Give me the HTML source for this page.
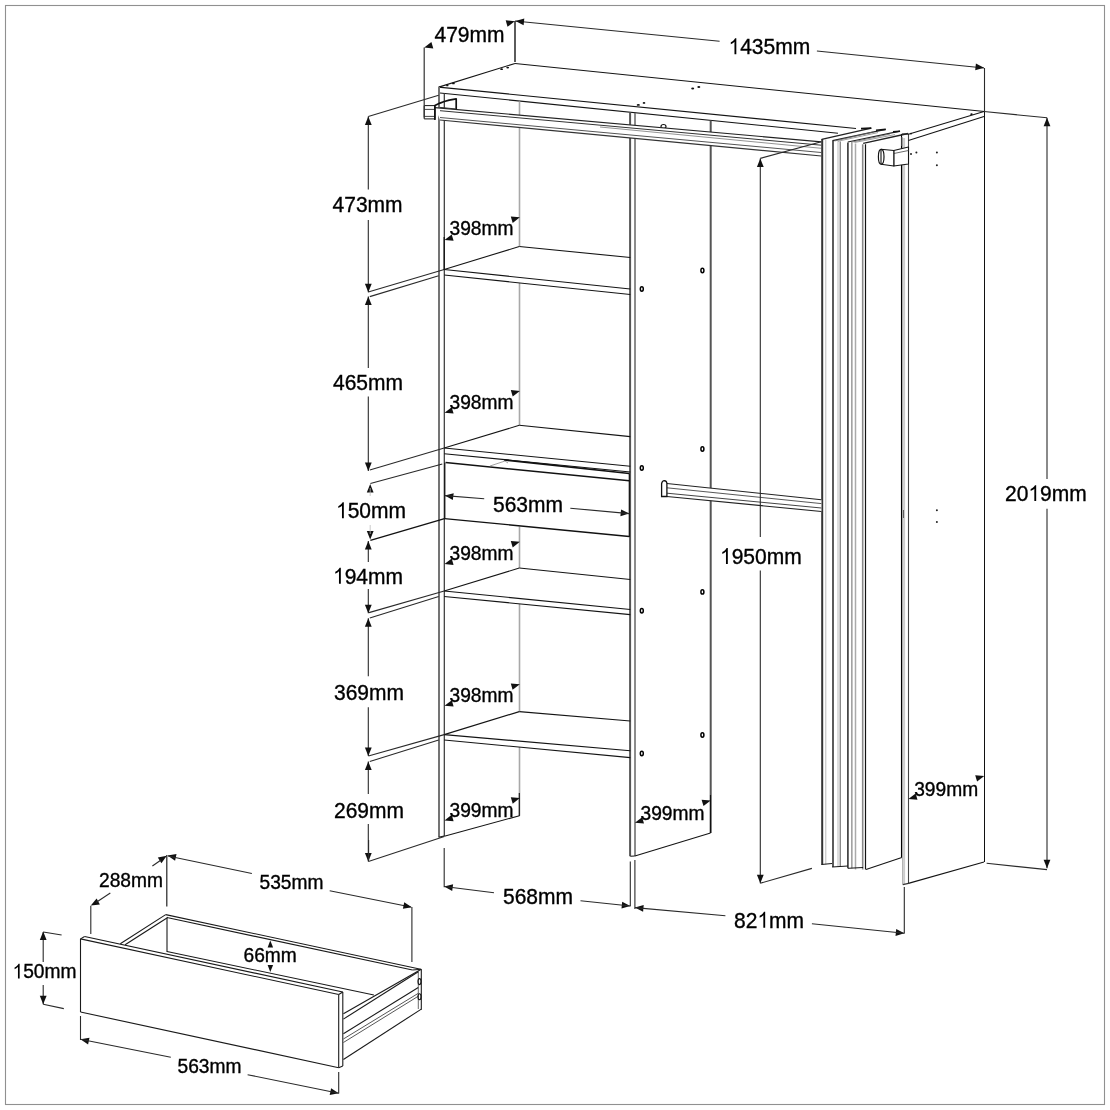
<!DOCTYPE html>
<html><head><meta charset="utf-8"><style>
html,body{margin:0;padding:0;background:#fff;width:1110px;height:1110px;overflow:hidden}
svg{display:block;will-change:transform}
text{font-family:"Liberation Sans",sans-serif;fill:#000}
.lbl text,.lbl path{fill:#000;stroke:#000;stroke-width:0.35px}
</style></head><body>
<svg width="1110" height="1110" viewBox="0 0 1110 1110">
<rect x="5.5" y="5.5" width="1099" height="1099" fill="none" stroke="#909090" stroke-width="1.1"/>
<line x1="515.0" y1="63.5" x2="984.5" y2="111.5" stroke="#141414" stroke-width="1.1"/>
<line x1="438.7" y1="87.1" x2="515.0" y2="63.5" stroke="#141414" stroke-width="1.1"/>
<line x1="438.7" y1="87.1" x2="856.0" y2="128.5" stroke="#141414" stroke-width="1.1"/>
<line x1="440.0" y1="93.0" x2="838.0" y2="133.2" stroke="#141414" stroke-width="1.1"/>
<ellipse cx="447.3" cy="85.4" rx="1.2" ry="0.9" fill="#111"/>
<ellipse cx="453.4" cy="83.4" rx="1.4" ry="0.9" fill="#111"/>
<ellipse cx="501.6" cy="69.2" rx="1.4" ry="0.9" fill="#111"/>
<ellipse cx="507.7" cy="67.6" rx="1.4" ry="0.9" fill="#111"/>
<ellipse cx="638.3" cy="104.9" rx="1.6" ry="0.9" fill="#111"/>
<ellipse cx="644" cy="102.9" rx="1.3" ry="0.9" fill="#111"/>
<ellipse cx="692.7" cy="88.5" rx="1.5" ry="0.9" fill="#111"/>
<ellipse cx="698.8" cy="87.0" rx="1.5" ry="0.9" fill="#111"/>
<ellipse cx="971.5" cy="114.2" rx="1.2" ry="0.9" fill="#111"/>
<ellipse cx="911" cy="133.6" rx="1.0" ry="0.9" fill="#111"/>
<line x1="439.0" y1="87.1" x2="439.0" y2="837.3" stroke="#747474" stroke-width="2.0"/>
<line x1="444.3" y1="93.0" x2="444.3" y2="836.0" stroke="#333" stroke-width="1.2"/>
<line x1="438.7" y1="837.3" x2="444.2" y2="836.0" stroke="#141414" stroke-width="1.1"/>
<line x1="519.5" y1="101.4" x2="519.5" y2="246.5" stroke="#a8a8a8" stroke-width="1.6"/>
<line x1="519.5" y1="283.0" x2="519.5" y2="425.4" stroke="#a8a8a8" stroke-width="1.6"/>
<line x1="519.5" y1="526.5" x2="519.5" y2="568.0" stroke="#a8a8a8" stroke-width="1.6"/>
<line x1="519.5" y1="604.0" x2="519.5" y2="711.6" stroke="#a8a8a8" stroke-width="1.6"/>
<line x1="519.5" y1="747.0" x2="519.5" y2="815.7" stroke="#a8a8a8" stroke-width="1.6"/>
<line x1="444.3" y1="836.3" x2="519.5" y2="815.7" stroke="#141414" stroke-width="1.1"/>
<line x1="630.1" y1="112.4" x2="630.1" y2="856.2" stroke="#555" stroke-width="2.0"/>
<line x1="635.0" y1="113.0" x2="635.0" y2="856.0" stroke="#666" stroke-width="1.5"/>
<line x1="630.3" y1="856.2" x2="634.9" y2="856.0" stroke="#141414" stroke-width="1.1"/>
<line x1="634.9" y1="856.0" x2="710.5" y2="833.0" stroke="#141414" stroke-width="1.1"/>
<line x1="710.7" y1="120.5" x2="710.7" y2="833.0" stroke="#555" stroke-width="2.0"/>
<ellipse cx="702.4" cy="270.5" rx="1.5" ry="2.2" fill="none" stroke="#000" stroke-width="1.5"/>
<ellipse cx="702.4" cy="449.0" rx="1.5" ry="2.2" fill="none" stroke="#000" stroke-width="1.5"/>
<ellipse cx="702.4" cy="591.9" rx="1.5" ry="2.2" fill="none" stroke="#000" stroke-width="1.5"/>
<ellipse cx="702.4" cy="735.0" rx="1.5" ry="2.2" fill="none" stroke="#000" stroke-width="1.5"/>
<ellipse cx="641.8" cy="289.0" rx="1.5" ry="2.2" fill="none" stroke="#000" stroke-width="1.5"/>
<ellipse cx="641.8" cy="468.0" rx="1.5" ry="2.2" fill="none" stroke="#000" stroke-width="1.5"/>
<ellipse cx="641.8" cy="610.8" rx="1.5" ry="2.2" fill="none" stroke="#000" stroke-width="1.5"/>
<ellipse cx="641.8" cy="753.5" rx="1.5" ry="2.2" fill="none" stroke="#000" stroke-width="1.5"/>
<ellipse cx="663.5" cy="126.5" rx="2.5" ry="2.0" fill="none" stroke="#141414" stroke-width="1.2"/>
<line x1="901.5" y1="134.0" x2="901.5" y2="857.5" stroke="#000" stroke-width="1.1"/>
<line x1="902.8" y1="138.0" x2="902.8" y2="884.6" stroke="#888" stroke-width="0.9"/>
<line x1="904.2" y1="138.0" x2="904.2" y2="884.0" stroke="#ccc" stroke-width="1.8"/>
<line x1="908.5" y1="134.0" x2="908.5" y2="883.4" stroke="#444" stroke-width="1.1"/>
<line x1="902.8" y1="884.6" x2="908.5" y2="883.4" stroke="#333" stroke-width="1.1"/>
<line x1="908.4" y1="883.4" x2="984.0" y2="862.0" stroke="#141414" stroke-width="1.1"/>
<line x1="984.5" y1="111.5" x2="984.5" y2="862.0" stroke="#111" stroke-width="1.0"/>
<line x1="984.0" y1="111.5" x2="908.4" y2="134.2" stroke="#141414" stroke-width="1.1"/>
<line x1="984.0" y1="116.6" x2="908.4" y2="140.5" stroke="#141414" stroke-width="1.1"/>
<line x1="901.8" y1="134.0" x2="908.4" y2="134.0" stroke="#141414" stroke-width="1.1"/>
<circle cx="911.0" cy="154.0" r="1.0" fill="#222"/>
<circle cx="916.4" cy="152.6" r="1.0" fill="#222"/>
<circle cx="936.9" cy="152.6" r="1.0" fill="#222"/>
<circle cx="936.9" cy="165.2" r="1.0" fill="#222"/>
<circle cx="936.9" cy="510.2" r="1.0" fill="#222"/>
<circle cx="936.9" cy="522.1" r="1.0" fill="#222"/>
<line x1="903.5" y1="510.0" x2="903.5" y2="518.0" stroke="#444" stroke-width="0.8"/>
<polygon points="434.9,107.6 821.3,141.9 821.3,156.0 440.0,120.0" fill="#fff" stroke="none" stroke-width="0" stroke-linejoin="round"/>
<line x1="434.9" y1="107.6" x2="821.3" y2="141.9" stroke="#222" stroke-width="1.1"/>
<line x1="440.0" y1="110.7" x2="821.3" y2="145.2" stroke="#333" stroke-width="1.0"/>
<line x1="600.0" y1="127.0" x2="821.3" y2="148.3" stroke="#777" stroke-width="0.8"/>
<line x1="440.0" y1="117.5" x2="821.3" y2="152.5" stroke="#555" stroke-width="1.0"/>
<line x1="440.0" y1="120.0" x2="821.3" y2="156.0" stroke="#333" stroke-width="1.1"/>
<polygon points="424.2,105.6 434.9,105.6 434.9,118.9 424.2,118.9" fill="#fff" stroke="#141414" stroke-width="1.0" stroke-linejoin="round"/>
<line x1="424.2" y1="109.4" x2="434.9" y2="109.4" stroke="#141414" stroke-width="0.8"/>
<line x1="424.2" y1="116.4" x2="434.9" y2="116.4" stroke="#141414" stroke-width="0.8"/>
<polyline points="434.9,120.0 434.9,105.6 440.0,103.1 444.3,101.5 449.2,100.1 456.2,98.8 456.2,109.3" fill="none" stroke="#111" stroke-width="1.7" stroke-linejoin="round"/>
<line x1="440.0" y1="107.4" x2="456.2" y2="109.0" stroke="#333" stroke-width="1.0"/>
<polygon points="893.8,150.5 908.5,147.0 908.5,164.0 893.8,166.0" fill="#fff" stroke="#141414" stroke-width="1.1" stroke-linejoin="round"/>
<line x1="893.8" y1="153.5" x2="908.5" y2="150.5" stroke="#444" stroke-width="0.8"/>
<polygon points="881.0,149.3 893.8,150.5 893.8,166.0 881.0,164.2" fill="#fff" stroke="#141414" stroke-width="1.1" stroke-linejoin="round"/>
<ellipse cx="881.2" cy="156.7" rx="2.8" ry="7.4" fill="none" stroke="#141414" stroke-width="1.2"/>
<line x1="902.2" y1="137.0" x2="902.2" y2="146.0" stroke="#999" stroke-width="1.2"/>
<line x1="822.2" y1="138.9" x2="822.2" y2="864.5" stroke="#333" stroke-width="2.0"/>
<line x1="825.8" y1="139.5" x2="825.8" y2="864.5" stroke="#bbb" stroke-width="1.0"/>
<line x1="833.0" y1="140.6" x2="833.0" y2="867.0" stroke="#333" stroke-width="1.6"/>
<line x1="838.0" y1="141.0" x2="838.0" y2="867.0" stroke="#bbb" stroke-width="1.0"/>
<line x1="840.2" y1="141.5" x2="840.2" y2="867.0" stroke="#555" stroke-width="1.0"/>
<line x1="847.9" y1="142.5" x2="847.9" y2="868.3" stroke="#333" stroke-width="1.6"/>
<line x1="851.9" y1="142.8" x2="851.9" y2="868.3" stroke="#666" stroke-width="1.0"/>
<line x1="855.5" y1="143.5" x2="855.5" y2="869.6" stroke="#aaa" stroke-width="1.5"/>
<line x1="862.7" y1="144.2" x2="862.7" y2="869.6" stroke="#888" stroke-width="1.6"/>
<line x1="865.5" y1="144.2" x2="865.5" y2="869.6" stroke="#111" stroke-width="1.2"/>
<line x1="821.7" y1="139.3" x2="871.3" y2="128.1" stroke="#222" stroke-width="1.3"/>
<line x1="832.5" y1="140.7" x2="885.7" y2="129.4" stroke="#222" stroke-width="1.2"/>
<line x1="847.8" y1="142.0" x2="900.0" y2="131.2" stroke="#222" stroke-width="1.2"/>
<line x1="863.2" y1="143.4" x2="908.2" y2="133.5" stroke="#222" stroke-width="1.3"/>
<line x1="834.5" y1="141.0" x2="873.0" y2="132.0" stroke="#666" stroke-width="0.8"/>
<line x1="838.0" y1="141.2" x2="878.0" y2="132.6" stroke="#888" stroke-width="0.8"/>
<line x1="851.0" y1="142.3" x2="890.0" y2="134.0" stroke="#666" stroke-width="0.8"/>
<line x1="854.5" y1="142.5" x2="895.0" y2="134.6" stroke="#888" stroke-width="0.8"/>
<line x1="861.0" y1="128.6" x2="871.3" y2="128.1" stroke="#111" stroke-width="1.6"/>
<line x1="876.0" y1="130.2" x2="885.7" y2="129.4" stroke="#111" stroke-width="1.6"/>
<line x1="893.0" y1="131.9" x2="900.0" y2="131.2" stroke="#111" stroke-width="1.6"/>
<polyline points="821.3,864.5 832.1,863.5" fill="none" stroke="#141414" stroke-width="1.0" stroke-linejoin="round"/>
<polyline points="832.1,867.0 847.9,866.0" fill="none" stroke="#141414" stroke-width="1.0" stroke-linejoin="round"/>
<polyline points="847.9,868.3 863.1,867.5" fill="none" stroke="#141414" stroke-width="1.0" stroke-linejoin="round"/>
<line x1="866.0" y1="869.6" x2="901.8" y2="857.6" stroke="#141414" stroke-width="1.1"/>
<polygon points="666.9,483.5 821.4,499.8 821.4,511.5 666.9,496.5" fill="#fff" stroke="none" stroke-width="0" stroke-linejoin="round"/>
<line x1="666.9" y1="483.5" x2="821.4" y2="499.8" stroke="#222" stroke-width="1.1"/>
<line x1="666.9" y1="487.8" x2="821.4" y2="503.6" stroke="#444" stroke-width="0.9"/>
<line x1="666.9" y1="493.2" x2="821.4" y2="508.0" stroke="#444" stroke-width="1.0"/>
<line x1="666.9" y1="496.5" x2="821.4" y2="511.5" stroke="#222" stroke-width="1.1"/>
<path d="M661.6,496.5 V483.6 Q662.2,480.6 664.3,480.6 Q666.9,480.8 666.9,483.6 V496.5 Z" fill="#fff" stroke="#111" stroke-width="1.3"/>
<line x1="519.3" y1="246.5" x2="630.3" y2="257.5" stroke="#141414" stroke-width="1.1"/>
<line x1="444.2" y1="269.5" x2="519.3" y2="246.5" stroke="#141414" stroke-width="1.1"/>
<line x1="444.2" y1="269.5" x2="630.3" y2="289.0" stroke="#141414" stroke-width="1.1"/>
<line x1="444.2" y1="275.0" x2="630.3" y2="294.5" stroke="#141414" stroke-width="1.1"/>
<line x1="519.3" y1="425.3" x2="630.3" y2="436.6" stroke="#141414" stroke-width="1.1"/>
<line x1="444.2" y1="448.0" x2="519.3" y2="425.3" stroke="#141414" stroke-width="1.1"/>
<line x1="444.2" y1="448.0" x2="630.3" y2="466.3" stroke="#141414" stroke-width="1.1"/>
<line x1="444.2" y1="453.7" x2="630.3" y2="472.0" stroke="#141414" stroke-width="1.1"/>
<line x1="519.3" y1="568.0" x2="630.3" y2="579.5" stroke="#141414" stroke-width="1.1"/>
<line x1="444.2" y1="591.0" x2="519.3" y2="568.0" stroke="#141414" stroke-width="1.1"/>
<line x1="444.2" y1="591.0" x2="630.3" y2="609.5" stroke="#141414" stroke-width="1.1"/>
<line x1="444.2" y1="596.5" x2="630.3" y2="614.6" stroke="#141414" stroke-width="1.1"/>
<line x1="519.3" y1="711.6" x2="630.3" y2="721.0" stroke="#141414" stroke-width="1.1"/>
<line x1="444.2" y1="734.6" x2="519.3" y2="711.6" stroke="#141414" stroke-width="1.1"/>
<line x1="444.2" y1="734.6" x2="630.3" y2="750.8" stroke="#141414" stroke-width="1.1"/>
<line x1="444.2" y1="740.0" x2="630.3" y2="757.6" stroke="#141414" stroke-width="1.1"/>
<line x1="445.5" y1="462.6" x2="629.3" y2="480.7" stroke="#111" stroke-width="1.5"/>
<line x1="504.0" y1="459.9" x2="629.3" y2="473.5" stroke="#111" stroke-width="1.7"/>
<line x1="444.5" y1="518.6" x2="629.3" y2="536.5" stroke="#111" stroke-width="1.3"/>
<line x1="629.3" y1="473.5" x2="629.3" y2="537.0" stroke="#111" stroke-width="1.2"/>
<line x1="444.8" y1="462.7" x2="444.8" y2="518.8" stroke="#111" stroke-width="1.2"/>
<polyline points="490.0,466.0 505.0,461.0 508.0,463.0" fill="none" stroke="#888" stroke-width="0.8" stroke-linejoin="round"/>
<line x1="368.3" y1="116.5" x2="438.7" y2="95.2" stroke="#2a2a2a" stroke-width="1.1"/>
<line x1="368.3" y1="292.0" x2="444.2" y2="269.5" stroke="#2a2a2a" stroke-width="1.1"/>
<line x1="369.8" y1="296.6" x2="438.7" y2="275.8" stroke="#2a2a2a" stroke-width="1.1"/>
<line x1="369.8" y1="470.0" x2="444.2" y2="448.0" stroke="#2a2a2a" stroke-width="1.1"/>
<line x1="370.4" y1="483.5" x2="442.3" y2="464.0" stroke="#2a2a2a" stroke-width="1.1"/>
<line x1="370.4" y1="540.3" x2="444.5" y2="518.6" stroke="#111" stroke-width="1.4"/>
<line x1="369.0" y1="612.6" x2="444.2" y2="591.0" stroke="#2a2a2a" stroke-width="1.1"/>
<line x1="369.8" y1="618.0" x2="438.7" y2="596.5" stroke="#2a2a2a" stroke-width="1.1"/>
<line x1="368.4" y1="756.0" x2="444.2" y2="734.6" stroke="#2a2a2a" stroke-width="1.1"/>
<line x1="369.8" y1="761.6" x2="438.7" y2="740.0" stroke="#2a2a2a" stroke-width="1.1"/>
<line x1="368.4" y1="861.6" x2="444.3" y2="836.5" stroke="#2a2a2a" stroke-width="1.1"/>
<line x1="368.3" y1="116.5" x2="368.3" y2="189.5" stroke="#2a2a2a" stroke-width="1.1"/>
<line x1="368.3" y1="220.0" x2="368.3" y2="292.2" stroke="#2a2a2a" stroke-width="1.1"/>
<polygon points="368.3,116.5 371.7,125.0 364.9,125.0" fill="#111"/>
<polygon points="368.3,292.2 364.9,283.7 371.7,283.7" fill="#111"/>
<line x1="368.3" y1="296.6" x2="368.3" y2="368.0" stroke="#2a2a2a" stroke-width="1.1"/>
<line x1="368.3" y1="396.5" x2="368.3" y2="470.9" stroke="#2a2a2a" stroke-width="1.1"/>
<polygon points="368.3,296.6 371.7,305.1 364.9,305.1" fill="#111"/>
<polygon points="368.3,470.9 364.9,462.4 371.7,462.4" fill="#111"/>
<polygon points="370.2,484.1 373.6,492.6 366.8,492.6" fill="#111"/>
<polygon points="370.2,539.6 366.8,531.1 373.6,531.1" fill="#111"/>
<line x1="370.2" y1="488.0" x2="370.2" y2="496.0" stroke="#bbb" stroke-width="0.8"/>
<line x1="370.2" y1="525.0" x2="370.2" y2="534.0" stroke="#bbb" stroke-width="0.8"/>
<line x1="368.3" y1="540.9" x2="368.3" y2="562.0" stroke="#2a2a2a" stroke-width="1.1"/>
<line x1="368.3" y1="589.0" x2="368.3" y2="613.2" stroke="#2a2a2a" stroke-width="1.1"/>
<polygon points="368.3,540.9 371.7,549.4 364.9,549.4" fill="#111"/>
<polygon points="368.3,613.2 364.9,604.7 371.7,604.7" fill="#111"/>
<line x1="368.3" y1="618.3" x2="368.3" y2="676.3" stroke="#2a2a2a" stroke-width="1.1"/>
<line x1="368.3" y1="707.2" x2="368.3" y2="756.0" stroke="#2a2a2a" stroke-width="1.1"/>
<polygon points="368.3,618.3 371.7,626.8 364.9,626.8" fill="#111"/>
<polygon points="368.3,756.0 364.9,747.5 371.7,747.5" fill="#111"/>
<line x1="368.3" y1="761.6" x2="368.3" y2="794.0" stroke="#2a2a2a" stroke-width="1.1"/>
<line x1="368.3" y1="824.0" x2="368.3" y2="861.6" stroke="#2a2a2a" stroke-width="1.1"/>
<polygon points="368.3,761.6 371.7,770.1 364.9,770.1" fill="#111"/>
<polygon points="368.3,861.6 364.9,853.1 371.7,853.1" fill="#111"/>
<g class="lbl" transform="translate(332.6,211.5) scale(1,1.06)"><text x="0" y="0" font-size="21.0">473mm</text></g>
<g class="lbl" transform="translate(333.0,390.3) scale(1,1.06)"><text x="0" y="0" font-size="21.0">465mm</text></g>
<g class="lbl" transform="translate(336.0,518.2) scale(1,1.06)"><text x="0" y="0" font-size="21.0"> 50mm</text><path transform="translate(0.00,0) scale(0.01025,-0.01025)" d="M763 0H583V1147Q518 1085 412 1023Q307 961 223 930V1104Q374 1175 487 1276Q600 1377 647 1466H763Z"/></g>
<g class="lbl" transform="translate(333.0,583.8) scale(1,1.06)"><text x="0" y="0" font-size="21.0"> 94mm</text><path transform="translate(0.00,0) scale(0.01025,-0.01025)" d="M763 0H583V1147Q518 1085 412 1023Q307 961 223 930V1104Q374 1175 487 1276Q600 1377 647 1466H763Z"/></g>
<g class="lbl" transform="translate(334.0,699.6) scale(1,1.06)"><text x="0" y="0" font-size="21.0">369mm</text></g>
<g class="lbl" transform="translate(334.0,818.4) scale(1,1.06)"><text x="0" y="0" font-size="21.0">269mm</text></g>
<line x1="424.2" y1="47.5" x2="424.2" y2="117.6" stroke="#333" stroke-width="1.2"/>
<line x1="515.0" y1="21.0" x2="515.0" y2="62.0" stroke="#333" stroke-width="1.6"/>
<polygon points="424.2,47.5 431.4,41.9 433.3,48.4" fill="#111"/>
<polygon points="514.8,21.2 507.5,26.8 505.7,20.2" fill="#111"/>
<g class="lbl" transform="translate(434.5,42.3) scale(1,1.06)"><text x="0" y="0" font-size="21.0">479mm</text></g>
<line x1="515.0" y1="21.0" x2="719.6" y2="41.3" stroke="#2a2a2a" stroke-width="1.1"/>
<line x1="816.9" y1="51.0" x2="984.0" y2="68.0" stroke="#2a2a2a" stroke-width="1.1"/>
<polygon points="515.5,21.0 524.3,18.5 523.6,25.2" fill="#111"/>
<polygon points="984.0,67.8 975.2,70.3 975.9,63.6" fill="#111"/>
<line x1="984.5" y1="68.0" x2="984.5" y2="111.5" stroke="#2a2a2a" stroke-width="1.1"/>
<g class="lbl" transform="translate(728.5,54.3) scale(1,1.06)"><text x="0" y="0" font-size="21.0"> 435mm</text><path transform="translate(0.00,0) scale(0.01025,-0.01025)" d="M763 0H583V1147Q518 1085 412 1023Q307 961 223 930V1104Q374 1175 487 1276Q600 1377 647 1466H763Z"/></g>
<line x1="760.3" y1="158.4" x2="760.3" y2="537.0" stroke="#2a2a2a" stroke-width="1.1"/>
<line x1="760.3" y1="570.5" x2="760.3" y2="883.2" stroke="#2a2a2a" stroke-width="1.1"/>
<polygon points="760.3,158.4 763.7,166.9 756.9,166.9" fill="#111"/>
<polygon points="760.3,883.2 756.9,874.7 763.7,874.7" fill="#111"/>
<line x1="760.3" y1="158.4" x2="821.3" y2="141.8" stroke="#2a2a2a" stroke-width="1.1"/>
<line x1="760.3" y1="883.2" x2="811.9" y2="868.4" stroke="#2a2a2a" stroke-width="1.1"/>
<g class="lbl" transform="translate(720.0,564.0) scale(1,1.06)"><text x="0" y="0" font-size="21.0"> 950mm</text><path transform="translate(0.00,0) scale(0.01025,-0.01025)" d="M763 0H583V1147Q518 1085 412 1023Q307 961 223 930V1104Q374 1175 487 1276Q600 1377 647 1466H763Z"/></g>
<line x1="1047.0" y1="117.8" x2="1047.0" y2="479.0" stroke="#2a2a2a" stroke-width="1.1"/>
<line x1="1047.0" y1="508.7" x2="1047.0" y2="868.3" stroke="#2a2a2a" stroke-width="1.1"/>
<polygon points="1047.0,117.8 1050.4,126.3 1043.6,126.3" fill="#111"/>
<polygon points="1047.0,868.3 1043.6,859.8 1050.4,859.8" fill="#111"/>
<line x1="984.0" y1="111.5" x2="1047.0" y2="117.8" stroke="#2a2a2a" stroke-width="1.1"/>
<line x1="986.6" y1="863.3" x2="1047.0" y2="869.6" stroke="#2a2a2a" stroke-width="1.1"/>
<g class="lbl" transform="translate(1005.0,501.1) scale(1,1.06)"><text x="0" y="0" font-size="21.0">20 9mm</text><path transform="translate(23.36,0) scale(0.01025,-0.01025)" d="M763 0H583V1147Q518 1085 412 1023Q307 961 223 930V1104Q374 1175 487 1276Q600 1377 647 1466H763Z"/></g>
<polygon points="444.8,495.6 453.7,493.3 452.8,500.1" fill="#111"/>
<polygon points="629.2,513.6 620.4,516.2 621.1,509.4" fill="#111"/>
<line x1="444.8" y1="495.6" x2="484.2" y2="498.8" stroke="#2a2a2a" stroke-width="1.1"/>
<line x1="570.3" y1="508.2" x2="629.2" y2="513.6" stroke="#2a2a2a" stroke-width="1.1"/>
<g class="lbl" transform="translate(493.0,511.8) scale(1,1.06)"><text x="0" y="0" font-size="21.0">563mm</text></g>
<line x1="444.2" y1="848.0" x2="444.2" y2="887.3" stroke="#2a2a2a" stroke-width="1.1"/>
<line x1="630.3" y1="861.6" x2="630.3" y2="906.3" stroke="#2a2a2a" stroke-width="1.1"/>
<polygon points="444.2,886.5 453.1,884.2 452.2,891.0" fill="#111"/>
<polygon points="630.3,906.0 621.5,908.5 622.2,901.8" fill="#111"/>
<line x1="444.2" y1="886.5" x2="494.0" y2="892.7" stroke="#2a2a2a" stroke-width="1.1"/>
<line x1="580.5" y1="900.8" x2="630.3" y2="906.0" stroke="#2a2a2a" stroke-width="1.1"/>
<g class="lbl" transform="translate(503.0,903.5) scale(1,1.06)"><text x="0" y="0" font-size="21.0">568mm</text></g>
<line x1="634.9" y1="860.0" x2="634.9" y2="909.0" stroke="#2a2a2a" stroke-width="1.1"/>
<line x1="904.3" y1="887.0" x2="904.3" y2="933.5" stroke="#2a2a2a" stroke-width="1.1"/>
<polygon points="634.9,907.6 643.7,905.0 643.1,911.7" fill="#111"/>
<polygon points="904.3,933.3 895.5,935.9 896.2,929.1" fill="#111"/>
<line x1="634.9" y1="907.6" x2="725.4" y2="915.7" stroke="#2a2a2a" stroke-width="1.1"/>
<line x1="811.9" y1="923.8" x2="904.3" y2="933.3" stroke="#2a2a2a" stroke-width="1.1"/>
<g class="lbl" transform="translate(734.0,927.8) scale(1,1.06)"><text x="0" y="0" font-size="21.0">82 mm</text><path transform="translate(23.36,0) scale(0.01025,-0.01025)" d="M763 0H583V1147Q518 1085 412 1023Q307 961 223 930V1104Q374 1175 487 1276Q600 1377 647 1466H763Z"/></g>
<polygon points="444.5,240.0 451.7,234.4 453.6,240.7" fill="#111"/>
<polygon points="519.9,217.3 512.7,222.9 510.8,216.6" fill="#111"/>
<g class="lbl" transform="translate(449.5,235.4) scale(1,1.06)"><text x="0" y="0" font-size="19.2">398mm</text></g>
<polygon points="444.5,412.8 451.7,407.3 453.6,413.6" fill="#111"/>
<polygon points="519.9,390.9 512.7,396.4 510.8,390.1" fill="#111"/>
<g class="lbl" transform="translate(449.5,408.6) scale(1,1.06)"><text x="0" y="0" font-size="19.2">398mm</text></g>
<polygon points="444.5,564.1 451.7,558.5 453.6,564.9" fill="#111"/>
<polygon points="519.9,541.8 512.7,547.4 510.8,541.0" fill="#111"/>
<g class="lbl" transform="translate(449.5,559.5) scale(1,1.06)"><text x="0" y="0" font-size="19.2">398mm</text></g>
<polygon points="444.5,705.8 451.8,700.3 453.6,706.6" fill="#111"/>
<polygon points="519.9,684.3 512.6,689.8 510.8,683.5" fill="#111"/>
<g class="lbl" transform="translate(449.5,702.2) scale(1,1.06)"><text x="0" y="0" font-size="19.2">398mm</text></g>
<polygon points="444.5,820.4 451.7,814.8 453.6,821.2" fill="#111"/>
<polygon points="519.9,798.1 512.7,803.7 510.8,797.3" fill="#111"/>
<g class="lbl" transform="translate(449.5,817.0) scale(1,1.06)"><text x="0" y="0" font-size="19.2">399mm</text></g>
<polygon points="634.9,822.8 642.1,817.2 644.0,823.6" fill="#111"/>
<polygon points="710.7,800.5 703.5,806.1 701.6,799.7" fill="#111"/>
<g class="lbl" transform="translate(640.5,819.7) scale(1,1.06)"><text x="0" y="0" font-size="19.2">399mm</text></g>
<polygon points="908.4,799.0 915.6,793.4 917.5,799.7" fill="#111"/>
<polygon points="984.3,776.0 977.1,781.6 975.2,775.3" fill="#111"/>
<g class="lbl" transform="translate(914.2,796.0) scale(1,1.06)"><text x="0" y="0" font-size="19.2">399mm</text></g>
<line x1="519.3" y1="793.0" x2="519.3" y2="816.0" stroke="#111" stroke-width="1.1"/>
<line x1="710.5" y1="795.0" x2="710.5" y2="833.0" stroke="#111" stroke-width="1.1"/>
<line x1="444.2" y1="237.0" x2="444.2" y2="270.0" stroke="#111" stroke-width="1.3"/>
<line x1="80.5" y1="938.9" x2="80.5" y2="1012.0" stroke="#1a1a1a" stroke-width="1.1"/>
<line x1="80.5" y1="1012.0" x2="338.7" y2="1067.7" stroke="#1a1a1a" stroke-width="1.1"/>
<line x1="80.5" y1="938.9" x2="338.7" y2="994.5" stroke="#1a1a1a" stroke-width="1.1"/>
<line x1="84.6" y1="936.5" x2="342.8" y2="992.0" stroke="#1a1a1a" stroke-width="1.1"/>
<line x1="80.5" y1="938.9" x2="84.6" y2="936.5" stroke="#1a1a1a" stroke-width="1.1"/>
<line x1="338.7" y1="994.5" x2="338.7" y2="1067.7" stroke="#1a1a1a" stroke-width="1.1"/>
<line x1="342.8" y1="992.0" x2="342.8" y2="1065.9" stroke="#1a1a1a" stroke-width="1.1"/>
<line x1="338.7" y1="994.5" x2="342.8" y2="992.0" stroke="#1a1a1a" stroke-width="1.1"/>
<line x1="338.7" y1="1067.7" x2="342.8" y2="1065.9" stroke="#1a1a1a" stroke-width="1.1"/>
<line x1="120.3" y1="943.8" x2="165.7" y2="914.6" stroke="#1a1a1a" stroke-width="1.1"/>
<line x1="125.1" y1="944.8" x2="168.1" y2="917.3" stroke="#1a1a1a" stroke-width="1.1"/>
<line x1="165.7" y1="914.6" x2="420.7" y2="969.3" stroke="#1a1a1a" stroke-width="1.1"/>
<line x1="168.1" y1="917.8" x2="412.5" y2="970.0" stroke="#1a1a1a" stroke-width="1.1"/>
<line x1="167.0" y1="917.8" x2="167.0" y2="951.9" stroke="#1a1a1a" stroke-width="1.1"/>
<line x1="167.0" y1="951.5" x2="373.9" y2="995.0" stroke="#1a1a1a" stroke-width="1.1"/>
<line x1="421.3" y1="969.3" x2="421.3" y2="1009.7" stroke="#1a1a1a" stroke-width="1.1"/>
<line x1="418.3" y1="971.5" x2="418.3" y2="1009.0" stroke="#444" stroke-width="0.8"/>
<line x1="412.5" y1="970.0" x2="421.3" y2="969.3" stroke="#1a1a1a" stroke-width="1.1"/>
<line x1="421.3" y1="969.3" x2="343.4" y2="1013.8" stroke="#1a1a1a" stroke-width="1.1"/>
<line x1="418.3" y1="971.7" x2="343.4" y2="1019.1" stroke="#1a1a1a" stroke-width="1.1"/>
<line x1="418.3" y1="987.5" x2="343.4" y2="1033.7" stroke="#1a1a1a" stroke-width="1.1"/>
<line x1="418.3" y1="993.3" x2="343.4" y2="1039.0" stroke="#444" stroke-width="0.9"/>
<line x1="418.3" y1="996.2" x2="343.4" y2="1042.5" stroke="#444" stroke-width="0.9"/>
<line x1="421.3" y1="1009.1" x2="343.4" y2="1059.5" stroke="#1a1a1a" stroke-width="1.1"/>
<ellipse cx="419.5" cy="981.6" rx="1.5" ry="3.0" fill="none" stroke="#141414" stroke-width="1.1"/>
<ellipse cx="419.5" cy="996.8" rx="1.5" ry="3.0" fill="none" stroke="#141414" stroke-width="1.1"/>
<line x1="43.2" y1="932.0" x2="43.2" y2="962.0" stroke="#2a2a2a" stroke-width="1.1"/>
<line x1="43.2" y1="985.0" x2="43.2" y2="1004.3" stroke="#2a2a2a" stroke-width="1.1"/>
<polygon points="43.2,931.5 46.6,940.0 39.8,940.0" fill="#111"/>
<polygon points="43.2,1004.3 39.8,995.8 46.6,995.8" fill="#111"/>
<line x1="43.2" y1="932.0" x2="61.6" y2="935.0" stroke="#2a2a2a" stroke-width="1.1"/>
<line x1="43.2" y1="1004.3" x2="63.8" y2="1008.6" stroke="#2a2a2a" stroke-width="1.1"/>
<g class="lbl" transform="translate(12.5,978.4) scale(1,1.06)"><text x="0" y="0" font-size="19.2"> 50mm</text><path transform="translate(0.00,0) scale(0.00937,-0.00937)" d="M763 0H583V1147Q518 1085 412 1023Q307 961 223 930V1104Q374 1175 487 1276Q600 1377 647 1466H763Z"/></g>
<line x1="90.8" y1="905.7" x2="90.8" y2="934.0" stroke="#2a2a2a" stroke-width="1.1"/>
<polygon points="90.8,905.5 96.6,898.5 99.9,904.4" fill="#111"/>
<line x1="96.0" y1="902.5" x2="110.3" y2="893.0" stroke="#2a2a2a" stroke-width="1.1"/>
<line x1="166.8" y1="855.0" x2="166.8" y2="906.5" stroke="#222" stroke-width="1.2"/>
<polygon points="166.8,855.8 161.4,863.2 157.8,857.4" fill="#111"/>
<line x1="161.0" y1="860.0" x2="152.4" y2="866.0" stroke="#2a2a2a" stroke-width="1.1"/>
<g class="lbl" transform="translate(99.0,886.5) scale(1,1.06)"><text x="0" y="0" font-size="19.2">288mm</text></g>
<polygon points="167.5,855.6 176.5,854.1 175.1,860.7" fill="#111"/>
<line x1="168.0" y1="856.0" x2="251.9" y2="873.5" stroke="#2a2a2a" stroke-width="1.1"/>
<line x1="329.7" y1="890.8" x2="410.8" y2="907.0" stroke="#2a2a2a" stroke-width="1.1"/>
<polygon points="411.9,907.2 402.9,908.8 404.2,902.2" fill="#111"/>
<line x1="411.9" y1="907.0" x2="411.9" y2="962.0" stroke="#2a2a2a" stroke-width="1.1"/>
<g class="lbl" transform="translate(259.5,888.6) scale(1,1.06)"><text x="0" y="0" font-size="19.2">535mm</text></g>
<polygon points="270.3,940.5 273.1,947.5 267.6,947.5" fill="#111"/>
<polygon points="270.3,971.9 267.6,964.9 273.1,964.9" fill="#111"/>
<g class="lbl" transform="translate(243.5,962.2) scale(1,1.06)"><text x="0" y="0" font-size="19.2">66mm</text></g>
<line x1="80.5" y1="1016.0" x2="80.5" y2="1040.0" stroke="#2a2a2a" stroke-width="1.1"/>
<line x1="338.7" y1="1072.0" x2="338.7" y2="1093.5" stroke="#2a2a2a" stroke-width="1.1"/>
<polygon points="80.5,1039.3 89.5,1037.7 88.1,1044.4" fill="#111"/>
<polygon points="338.7,1093.3 329.7,1094.9 331.1,1088.3" fill="#111"/>
<line x1="80.5" y1="1039.3" x2="170.8" y2="1057.3" stroke="#2a2a2a" stroke-width="1.1"/>
<line x1="247.6" y1="1074.7" x2="338.7" y2="1093.3" stroke="#2a2a2a" stroke-width="1.1"/>
<g class="lbl" transform="translate(177.5,1073.0) scale(1,1.06)"><text x="0" y="0" font-size="19.2">563mm</text></g>
<line x1="368.6" y1="840.0" x2="368.6" y2="860.0" stroke="#2a2a2a" stroke-width="1.1"/>
</svg></body></html>
